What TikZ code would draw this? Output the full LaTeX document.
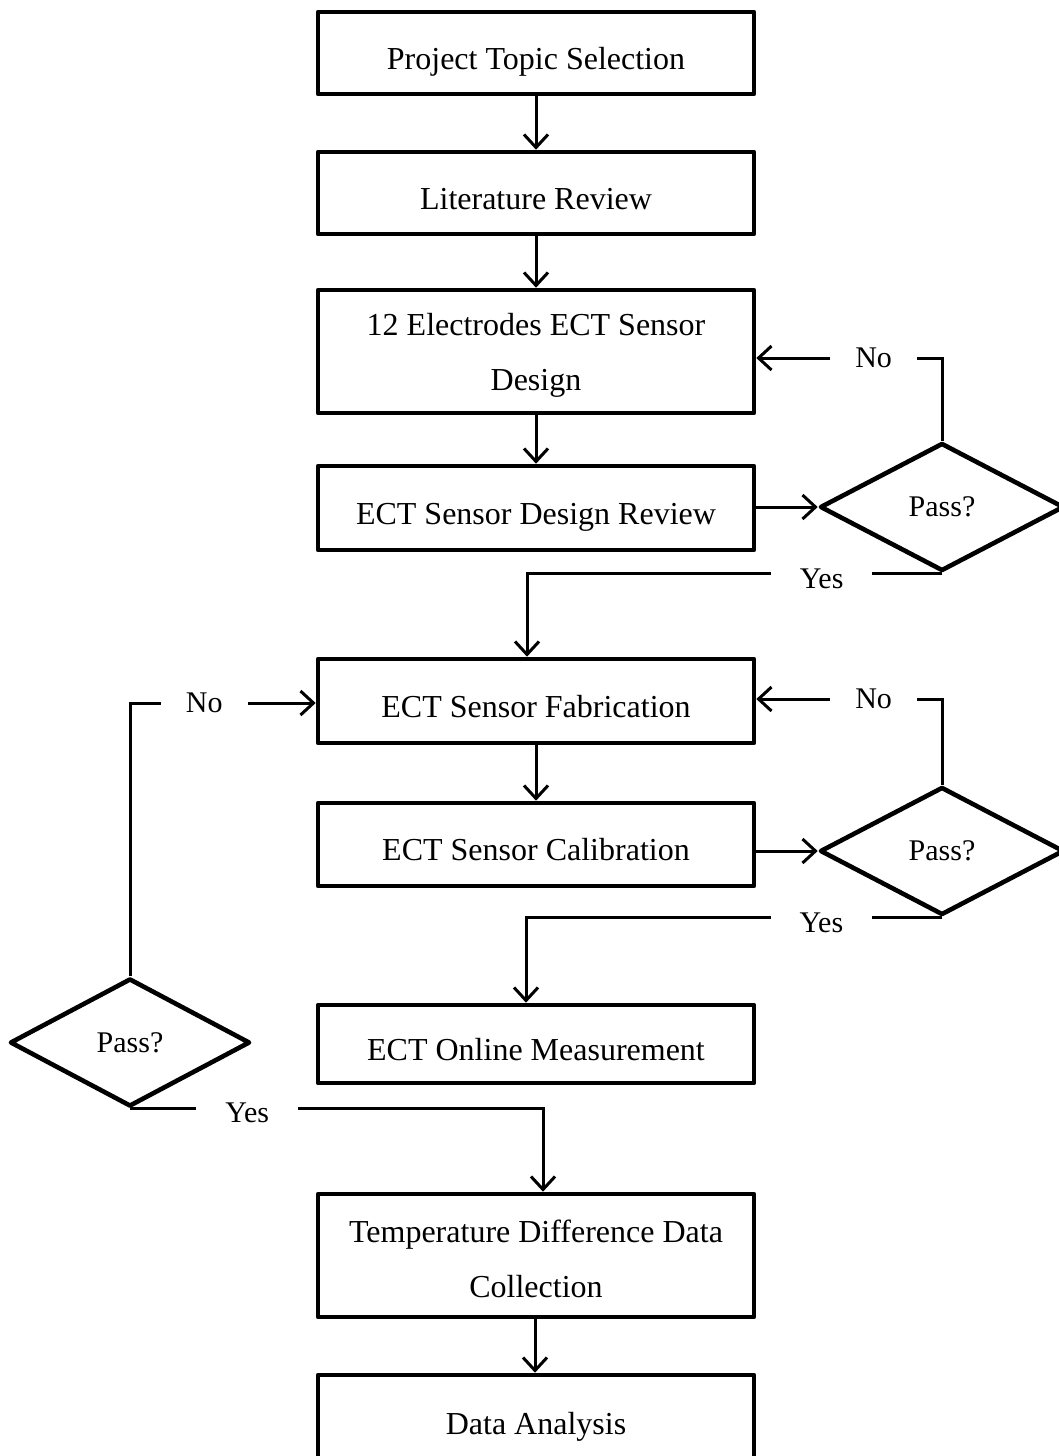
\documentclass[tikz,border=0pt]{standalone}
\usepackage{fontspec}
\setmainfont{Liberation Serif}
\usetikzlibrary{arrows.meta,shapes.geometric}

\begin{document}
\begin{tikzpicture}[x=1pt,y=-1pt,
  box/.style={draw, line width=4.6pt, line join=round, minimum width=436pt,
    align=center, inner sep=0pt, font=\fontsize{32}{55}\selectfont},
  oneline/.style={text height=32pt, text depth=0pt},
  pass/.style={draw, shape=diamond, line width=4.6pt, line join=round,
    minimum width=244pt, minimum height=128pt, inner sep=0pt,
    font=\fontsize{30}{36}\selectfont},
  flow/.style={line width=3pt, -{Straight Barb[length=13pt,width=24pt]}},
  lbl/.style={fill=white, font=\fontsize{30}{36}\selectfont,
    inner xsep=26pt, inner ysep=4pt}
]
\useasboundingbox (0,0) rectangle (1059,1456);
\fill[white] (0,0) rectangle (1059,1456);

% process boxes
\node[box, oneline, minimum height=82pt] (b1) at (536,53)    {Project Topic Selection};
\node[box, oneline, minimum height=82pt] (b2) at (536,193)   {Literature Review};
\node[box, minimum height=123pt] (b3) at (536,351.5) {\rule{0pt}{29pt}12 Electrodes ECT Sensor\\Design};
\node[box, oneline, minimum height=84pt] (b4) at (536,508)   {ECT Sensor Design Review};
\node[box, oneline, minimum height=84pt] (b5) at (536,701)   {ECT Sensor Fabrication};
\node[box, oneline, minimum height=83pt] (b6) at (536,844.5) {ECT Sensor Calibration};
\node[box, oneline, minimum height=78pt] (b7) at (536,1044)  {ECT Online Measurement};
\node[box, minimum height=123pt] (b8) at (536,1255.5) {\rule{0pt}{29pt}Temperature Difference Data\\Collection};
\node[box, oneline, minimum height=86pt] (b9) at (536,1418)  {Data Analysis};

% decisions
\node[pass] (d1) at (942,507)    {Pass?};
\node[pass] (d2) at (942,851)    {Pass?};
\node[pass, minimum width=240pt] (d3) at (130,1042.5) {Pass?};

% helper points for the return lines and the drop-down columns
\coordinate (n1) at (0,358);
\coordinate (c1) at (527,0);
\coordinate (c2) at (526,0);
\coordinate (c3) at (543,0);

% main sequence
\draw[flow] (b1) -- (b2);
\draw[flow] (b2) -- (b3);
\draw[flow] (b3) -- (b4);
\draw[flow] (b5) -- (b6);
\draw[flow] ([xshift=-1pt]b8.south) -- ([xshift=-1pt]b9.north);

% into the decisions
\draw[flow] (b4.east |- d1.west) -- (d1.west);
\draw[flow] (b6.east |- d2.west) -- (d2.west);

% first review loop
\draw[flow] (d1.north) |- node[lbl, pos=0.684, inner xsep=25pt] {No} (b3.east |- n1);
\draw[flow] (d1.south) -| node[lbl, pos=0.145, yshift=-6pt, inner xsep=29pt] {Yes} (c1 |- b5.north);

% calibration loop
\draw[flow] (d2.north) |- node[lbl, pos=0.684, inner xsep=25pt] {No} ([yshift=2pt]b5.east);
\draw[flow] (d2.south) -| node[lbl, pos=0.145, yshift=-6pt, inner xsep=29pt] {Yes} (c2 |- b7.north);

% measurement check
\draw[flow] (d3.north) |- node[lbl, pos=0.7, inner xsep=25pt] {No} ([yshift=-2pt]b5.west);
\draw[flow] (d3.south) -| node[lbl, pos=0.142, yshift=-4pt, inner xsep=29pt] {Yes} (c3 |- b8.north);
\end{tikzpicture}
\end{document}
